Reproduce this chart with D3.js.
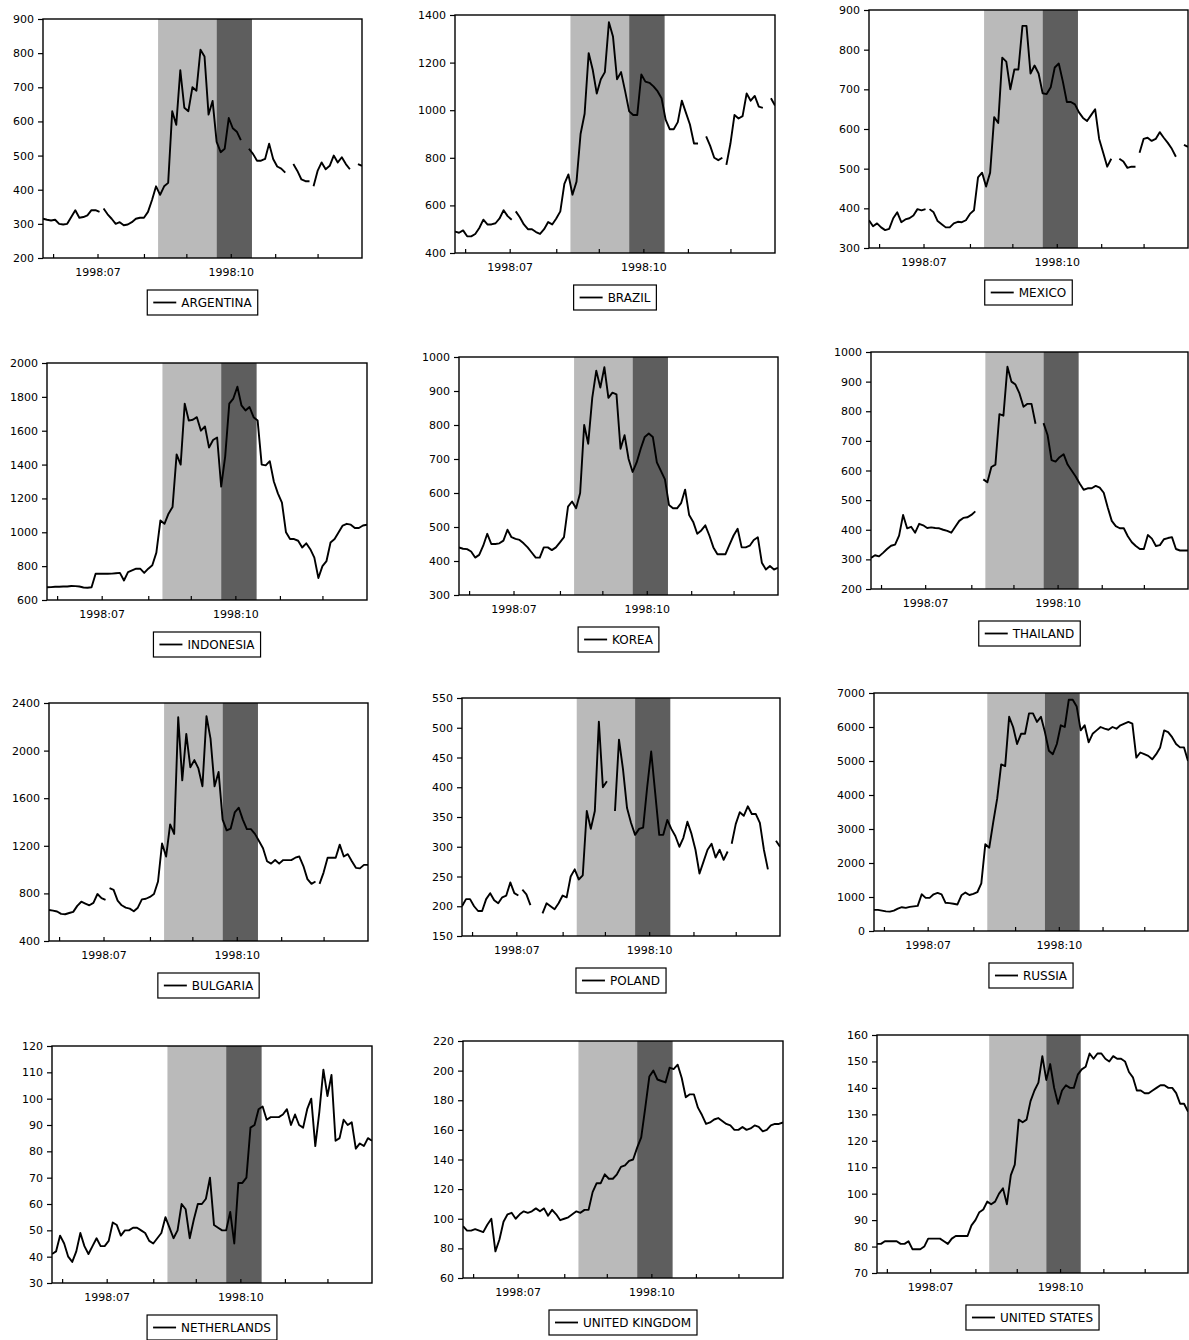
<!DOCTYPE html>
<html><head><meta charset="utf-8">
<script src="https://cdn.jsdelivr.net/npm/d3@7"></script>
<style>
body{margin:0;background:#fff}
svg{display:block}
text{font-family:"DejaVu Sans","Liberation Sans",Arial,sans-serif;fill:#000}
</style>
</head><body>
<svg id="chart" width="1189" height="1340"></svg>
<script>
// ---- categories / calendar (5-day business-day calendar, sampled every 2nd obs) ----
const startDate = "1998-05-25";
const endDate = "1998-12-31";
const sampleStep = 2;
const xTickMonths = ["1998-06","1998-07","1998-08","1998-09","1998-10","1998-11","1998-12"];
const xTickLabels = {"1998-07":"1998:07","1998-10":"1998:10"};
const shadeLight = ["1998-08-12","1998-09-22"];
const shadeDark = ["1998-09-22","1998-10-15"];

const countries = ["ARGENTINA","BRAZIL","MEXICO","INDONESIA","KOREA","THAILAND",
                   "BULGARIA","POLAND","RUSSIA","NETHERLANDS","UNITED KINGDOM","UNITED STATES"];
const yMin = [200,400,300,600,300,200,400,150,0,30,60,70];
const yMax = [900,1400,900,2000,1000,1000,2400,550,7000,120,220,160];
const yStep = [100,200,100,200,100,100,400,50,1000,10,20,10];

// ---- missing observations (holidays / no quote) ----
const argentinaMissing = ["1998-07-03","1998-10-12","1998-11-11","1998-11-26","1998-12-25"];
const brazilMissing = ["1998-07-03","1998-11-11","1998-11-26","1998-12-25"];
const mexicoMissing = ["1998-07-03","1998-11-11","1998-11-26","1998-12-25"];
const bulgariaMissing = ["1998-07-03","1998-11-26"];
const polandMissing = ["1998-07-03","1998-07-14","1998-07-15","1998-07-16","1998-09-04","1998-09-07","1998-11-26","1998-12-25"];
const noneMissing = [];

// ---- series values (one value every 2 business days, null = missing) ----
const argentina = [315,312,310,312,300,298,300,320,340,318,
 320,325,340,340,335,345,328,315,300,305,
 296,298,305,315,318,318,335,370,410,385,
 410,420,630,590,750,640,630,700,690,810,
 790,620,660,540,510,520,610,580,570,545,
 525,520,505,485,485,490,535,490,468,462,
 450,470,475,455,430,425,425,410,455,480,
 460,470,500,480,495,475,460,455,475,470];
const brazil = [490,485,495,470,470,480,505,540,520,520,
 525,545,580,555,540,575,550,520,500,500,
 488,480,500,530,520,545,575,690,730,645,
 700,900,985,1240,1170,1070,1130,1160,1370,1310,
 1130,1160,1080,995,980,980,1150,1120,1115,1100,
 1080,1050,960,920,920,950,1040,990,940,860,
 860,880,890,850,800,790,800,770,860,980,
 965,975,1070,1040,1060,1015,1010,1010,1050,1020];
const mexico = [370,355,362,352,345,348,375,390,365,372,
 375,382,398,395,398,398,390,368,360,352,
 352,362,366,365,370,386,395,478,490,455,
 490,630,615,780,770,700,750,750,860,860,
 740,760,740,690,688,705,755,765,720,668,
 668,662,642,628,620,635,650,575,540,505,
 525,545,525,518,502,505,505,540,575,578,
 570,575,592,578,565,550,530,545,560,555];
const indonesia = [675,676,678,678,680,680,683,682,680,674,
 672,675,755,755,755,755,756,758,760,715,
 765,775,785,785,760,785,805,880,1070,1050,
 1110,1150,1460,1400,1760,1660,1665,1680,1600,1625,
 1500,1545,1560,1270,1450,1760,1790,1860,1750,1720,
 1740,1680,1660,1400,1395,1420,1300,1230,1175,1000,
 960,960,950,910,935,900,850,730,800,830,
 940,960,1000,1040,1050,1045,1025,1025,1040,1045];
const korea = [440,436,435,428,410,418,445,480,450,450,
 452,460,492,470,465,462,452,440,425,410,
 410,440,440,432,440,455,470,560,575,555,
 600,800,745,880,960,910,970,880,895,890,
 730,770,700,662,690,730,765,775,765,690,
 665,640,565,555,555,570,610,535,515,480,
 490,505,475,440,420,420,420,448,475,495,
 440,440,445,462,470,395,375,385,375,380];
const thailand = [305,314,310,322,335,346,350,380,450,405,
 410,390,420,415,406,408,406,405,400,396,
 390,410,430,440,442,450,462,null,570,560,
 612,620,790,785,950,900,890,860,815,825,
 825,758,null,760,720,635,630,645,655,620,
 600,580,556,535,540,540,548,542,525,475,
 430,412,405,405,378,358,345,335,335,382,
 370,345,348,368,372,375,335,330,330,330];
const bulgaria = [660,655,648,628,625,635,645,695,730,715,
 700,720,795,760,745,845,830,740,700,680,
 672,650,680,750,755,770,795,900,1220,1110,
 1380,1300,2280,1750,2140,1860,1920,1850,1700,2290,
 2100,1700,1820,1420,1330,1345,1480,1520,1420,1340,
 1340,1300,1240,1180,1070,1050,1080,1050,1080,1080,
 1080,1100,1110,1030,920,880,900,880,975,1100,
 1100,1100,1210,1110,1130,1070,1015,1010,1040,1040];
const poland = [200,212,212,200,192,192,212,222,210,205,
 215,218,240,222,218,228,220,202,200,190,
 188,205,200,195,205,218,215,250,262,245,
 252,360,330,360,510,400,410,385,360,480,
 430,365,340,320,330,332,400,460,390,320,
 320,345,330,318,300,315,342,322,295,255,
 275,295,305,282,295,278,292,305,338,358,
 352,368,355,355,340,295,262,265,310,300];
const russia = [620,620,600,578,570,600,660,700,680,710,
 725,740,1080,975,975,1080,1120,1080,830,820,
 800,780,1050,1130,1060,1090,1140,1400,2550,2450,
 3200,3900,4900,4850,6300,6000,5500,5800,5800,6400,
 6400,6150,6300,5850,5300,5200,5500,6050,6000,6800,
 6800,6600,5900,6050,5550,5800,5900,6000,5950,5920,
 6000,5950,6050,6100,6150,6100,5100,5250,5200,5150,
 5050,5200,5400,5900,5850,5700,5500,5400,5400,5000];
const netherlands = [41,42,48,45,40,38,42,49,44,41,
 44,47,44,44,46,53,52,48,50,50,
 51,51,50,49,46,45,47,49,55,51,
 47,50,60,58,47,54,60,60,62,70,
 52,51,50,50,57,45,68,68,70,89,
 90,96,97,92,93,93,93,94,96,90,
 94,90,89,96,100,82,95,111,101,109,
 84,85,92,90,91,81,83,82,85,84];
const unitedKingdom = [95,92,92,93,92,91,96,100,78,86,
 98,103,104,100,103,105,104,105,107,105,
 107,102,106,103,99,100,101,103,105,104,
 106,106,118,124,124,130,127,127,130,135,
 136,139,140,148,155,175,196,200,194,193,
 192,202,201,204,195,182,184,184,175,170,
 164,165,167,168,166,164,163,160,160,162,
 160,161,163,162,159,160,163,164,164,165];
const unitedStates = [81,81,82,82,82,82,81,81,82,79,
 79,79,80,83,83,83,83,82,81,83,
 84,84,84,84,88,90,93,94,97,96,
 97,100,102,96,107,111,128,127,128,135,
 139,142,152,143,149,140,134,139,141,140,
 140,145,147,148,153,151,153,153,151,150,
 152,151,151,150,146,144,139,139,138,138,
 139,140,141,141,140,140,138,134,134,131];
const seriesList = [argentina,brazil,mexico,indonesia,korea,thailand,
                    bulgaria,poland,russia,netherlands,unitedKingdom,unitedStates];
const missingList = [argentinaMissing,brazilMissing,mexicoMissing,noneMissing,noneMissing,noneMissing,
                     bulgariaMissing,polandMissing,noneMissing,noneMissing,noneMissing,noneMissing];

// ---- layout (plot boxes: left, right, top, bottom) ----
const layout = [
 [43,362,19,258],[455,775,15,253],[869,1188,10,248],
 [47,367,363,600],[459,778,357,595],[871,1188,352,589],
 [49,368,703,941],[462,780,698,936],[874,1188,693,931],
 [52,372,1046,1283],[463,783,1041,1278],[877,1188,1035,1273]
];

// ---- business-day calendar ----
const parse = d3.timeParse("%Y-%m-%d");
const fmtDay = d3.timeFormat("%Y-%m-%d");
const fmtMon = d3.timeFormat("%Y-%m");
const allDays = d3.timeDay.range(parse(startDate), d3.timeDay.offset(parse(endDate),1))
  .filter(d => d.getDay() !== 0 && d.getDay() !== 6);
const dayIndex = new Map(allDays.map((d,i)=>[fmtDay(d), i]));
const nObs = allDays.length;
const monthTickIdx = xTickMonths.map(m => allDays.findIndex(d => fmtMon(d) === m));

const svg = d3.select("#chart");
const FONT = '"DejaVu Sans","Liberation Sans",Arial,sans-serif';

countries.forEach((name, p) => {
  const [L,R,T,B] = layout[p];
  const x = d3.scaleLinear().domain([0, nObs-1]).range([L, R]);
  const y = d3.scaleLinear().domain([yMin[p], yMax[p]]).range([B, T]);
  const g = svg.append("g");

  const cid = "clip"+p;
  g.append("clipPath").attr("id", cid).append("rect")
    .attr("x", L).attr("y", T).attr("width", R-L).attr("height", B-T);

  // shading
  const sh = g.append("g").attr("clip-path", `url(#${cid})`);
  sh.append("rect")
    .attr("x", x(dayIndex.get(shadeLight[0])))
    .attr("width", x(dayIndex.get(shadeLight[1])) - x(dayIndex.get(shadeLight[0])))
    .attr("y", T).attr("height", B-T).attr("fill", "#bababa");
  sh.append("rect")
    .attr("x", x(dayIndex.get(shadeDark[0])))
    .attr("width", x(dayIndex.get(shadeDark[1]) + 0.5) - x(dayIndex.get(shadeDark[0])))
    .attr("y", T).attr("height", B-T).attr("fill", "#5e5e5e");

  // series, with missing observations breaking the line
  const miss = new Set(missingList[p].map(d => dayIndex.get(d)));
  const pts = seriesList[p].map((v,k) => ({i: k*sampleStep, v: miss.has(k*sampleStep) ? null : v}));
  miss.forEach(i => { if (i % sampleStep) pts.push({i, v: null}); });
  pts.sort((a,b) => a.i - b.i);
  const line = d3.line().defined(d => d.v !== null).x(d => x(d.i)).y(d => y(d.v));
  sh.append("path").datum(pts).attr("d", line)
    .attr("fill","none").attr("stroke","#000").attr("stroke-width",1.9)
    .attr("stroke-linejoin","round");

  // frame
  g.append("rect").attr("x",L).attr("y",T).attr("width",R-L).attr("height",B-T)
    .attr("fill","none").attr("stroke","#000").attr("stroke-width",1.4);

  // y axis
  const yAx = g.append("g").attr("transform",`translate(${L},0)`)
    .call(d3.axisLeft(y).tickValues(d3.range(yMin[p], yMax[p]+yStep[p]/2, yStep[p]))
      .tickSize(5).tickPadding(4).tickFormat(d3.format("d")));
  yAx.select(".domain").remove();
  yAx.selectAll("line").attr("stroke","#000").attr("stroke-width",1.2);
  yAx.selectAll("text").attr("font-family",FONT).attr("font-size",11).attr("fill","#000");

  // x axis
  const xAx = g.append("g").attr("transform",`translate(0,${B})`)
    .call(d3.axisBottom(x).tickValues(monthTickIdx).tickSize(-4).tickPadding(10)
      .tickFormat((d,i) => xTickLabels[xTickMonths[i]] || ""));
  xAx.select(".domain").remove();
  xAx.selectAll("line").attr("stroke","#000").attr("stroke-width",1.2);
  xAx.selectAll("text").attr("font-family",FONT).attr("font-size",11).attr("fill","#000");

  // legend
  const cx = (L+R)/2, ly = B+32, lh = 25;
  const lg = g.append("g");
  const txt = lg.append("text").text(name).attr("font-family",FONT).attr("font-size",12)
    .attr("y", ly + lh/2 + 4.5);
  const tw = txt.node().getComputedTextLength();
  const bw = 34 + tw + 6;
  const x0 = cx - bw/2;
  txt.attr("x", x0+34);
  lg.insert("rect","text").attr("x",x0).attr("y",ly).attr("width",bw).attr("height",lh)
    .attr("fill","#fff").attr("stroke","#000").attr("stroke-width",1.2);
  lg.append("line").attr("x1",x0+6).attr("x2",x0+29).attr("y1",ly+lh/2).attr("y2",ly+lh/2)
    .attr("stroke","#000").attr("stroke-width",1.8);
});
</script>
</body></html>
